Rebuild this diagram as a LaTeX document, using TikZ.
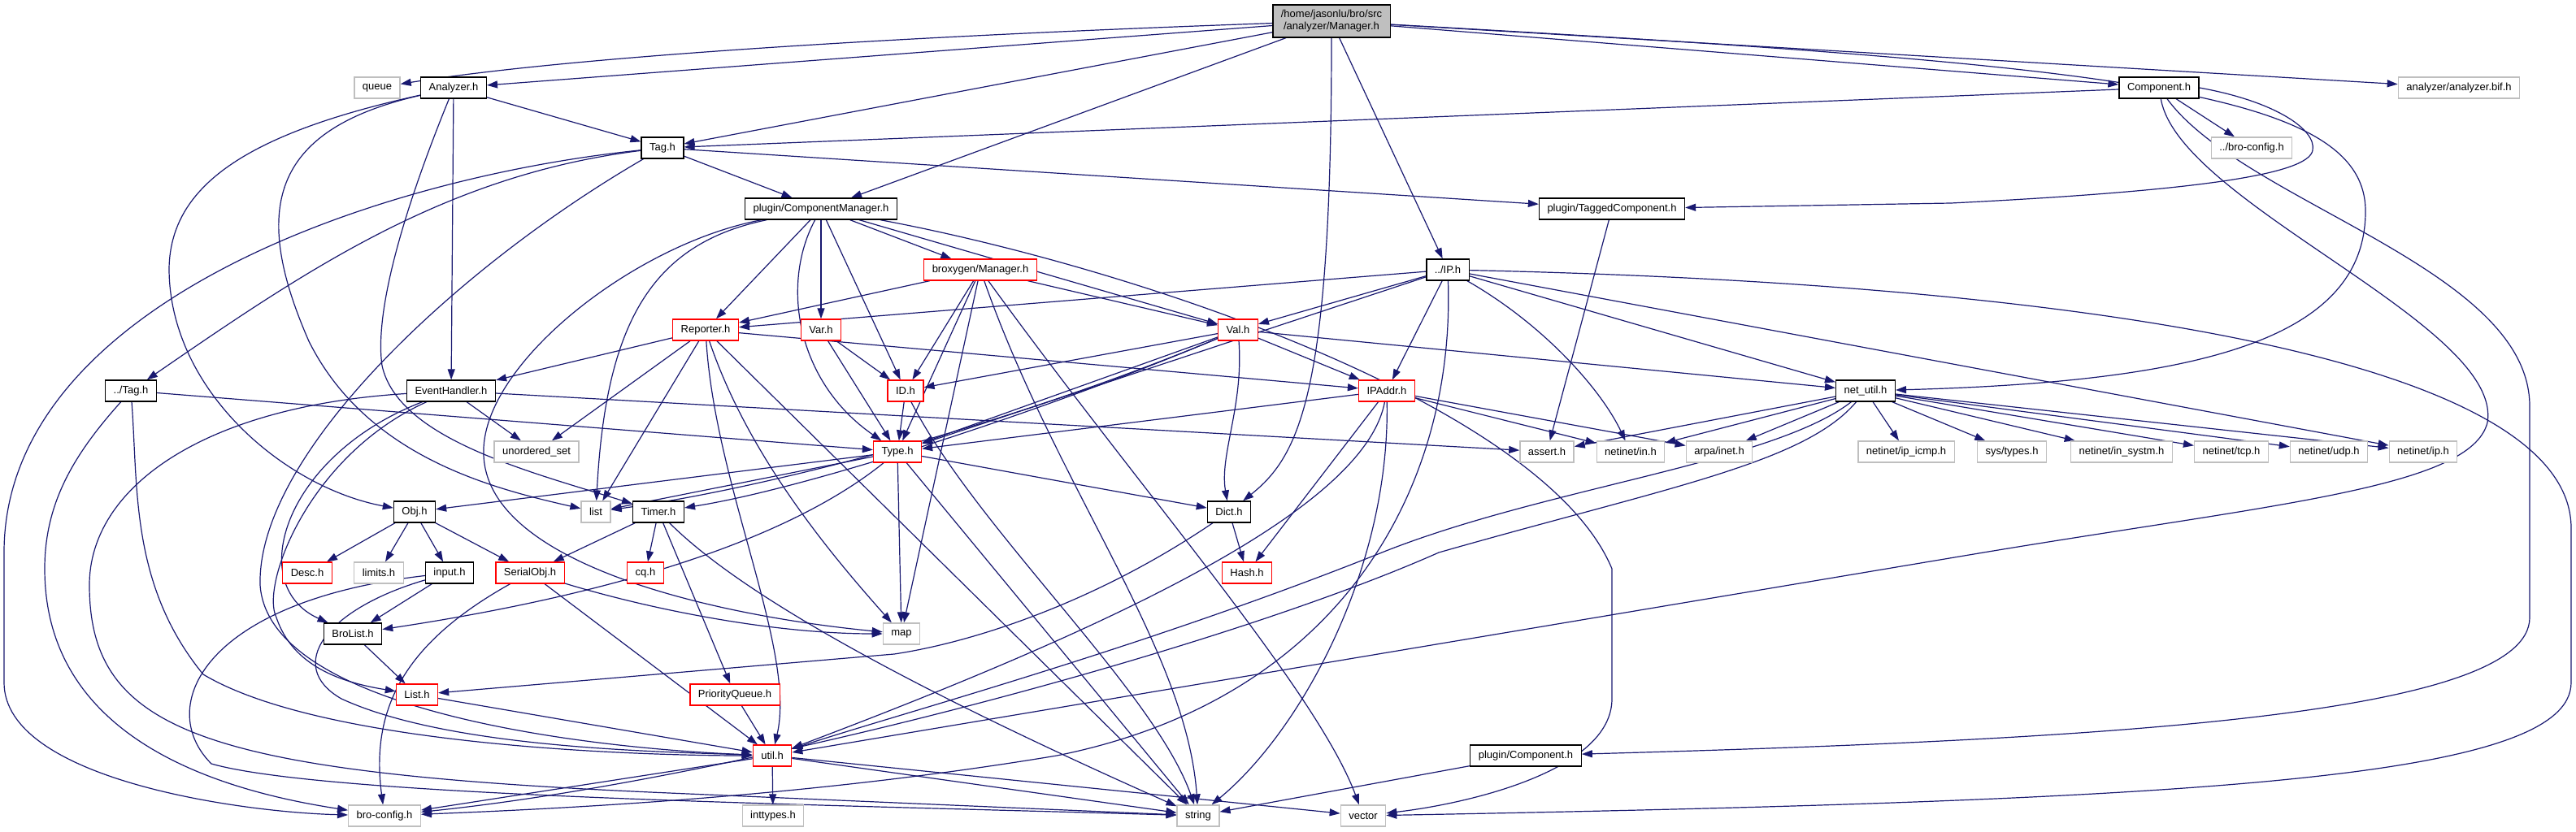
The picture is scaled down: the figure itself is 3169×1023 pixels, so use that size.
\documentclass[tikz,border=0pt]{standalone}
\usepackage{fontspec}
\setmainfont{Liberation Sans}
\usetikzlibrary{arrows.meta,backgrounds}
\definecolor{depblue}{HTML}{191970}
\definecolor{extgray}{HTML}{BFBFBF}

\begin{document}
\begin{tikzpicture}[x=1pt,y=-1pt,font=\fontsize{13}{15}\selectfont,
  file/.style={draw=black,line width=1.3pt,fill=white,minimum height=26pt,inner xsep=10pt,inner ysep=0pt},
  trunc/.style={file,draw=red},
  ext/.style={file,draw=extgray},
  dep/.style={draw=depblue,line width=1.2pt,-{Triangle[length=13pt,width=9pt]}}]
  \useasboundingbox (0,0) rectangle (3169,1023);
  % the header itself and its direct includes
  \node[file,fill=extgray,align=center,minimum height=40pt] (main) at (1638,26)
    {/home/jasonlu/bro/src\\/analyzer/Manager.h};
  \node[ext] (queue) at (464,108) {queue};
  \node[file] (analyzer) at (558,108) {Analyzer.h};
  \node[file] (component) at (2656,108) {Component.h};
  \node[ext] (bif) at (3025,108) {analyzer/analyzer.bif.h};
  \node[file] (tag) at (815,182) {Tag.h};
  \node[ext] (brocfgrel) at (2770,182) {../bro-config.h};
  \node[file] (compmgr) at (1010,257) {plugin/ComponentManager.h};
  \node[file] (taggedcomp) at (1983,257) {plugin/TaggedComponent.h};
  \node[trunc] (broxygen) at (1206,332) {broxygen/Manager.h};
  \node[file] (ip) at (1781,332) {../IP.h};
  % middle rows
  \node[trunc] (reporter) at (868,406) {Reporter.h};
  \node[trunc] (var) at (1010,406) {Var.h};
  \node[trunc] (val) at (1523,406) {Val.h};
  \node[file] (tagrel) at (161,481) {../Tag.h};
  \node[file] (evhandler) at (555,481) {EventHandler.h};
  \node[trunc] (id) at (1114,481) {ID.h};
  \node[trunc] (ipaddr) at (1706,481) {IPAddr.h};
  \node[file] (netutil) at (2295,481) {net\_util.h};
  \node[ext] (uset) at (660,556) {unordered\_set};
  \node[trunc] (type) at (1104,556) {Type.h};
  \node[ext] (assert) at (1903,556) {assert.h};
  \node[ext] (inh) at (2006,556) {netinet/in.h};
  \node[ext] (inet) at (2115,556) {arpa/inet.h};
  \node[ext] (icmp) at (2345,556) {netinet/ip\_icmp.h};
  \node[ext] (systypes) at (2475,556) {sys/types.h};
  \node[ext] (insystm) at (2610,556) {netinet/in\_systm.h};
  \node[ext] (tcp) at (2745,556) {netinet/tcp.h};
  \node[ext] (udp) at (2865,556) {netinet/udp.h};
  \node[ext] (netip) at (2981,556) {netinet/ip.h};
  \node[file] (obj) at (510,630) {Obj.h};
  \node[ext] (list) at (733,630) {list};
  \node[file] (timer) at (810,630) {Timer.h};
  \node[file] (dict) at (1512,630) {Dict.h};
  \node[trunc] (desc) at (378,705) {Desc.h};
  \node[ext] (limits) at (466,705) {limits.h};
  \node[file] (input) at (553,705) {input.h};
  \node[trunc] (serial) at (652,705) {SerialObj.h};
  \node[trunc] (cq) at (794,705) {cq.h};
  \node[trunc] (hash) at (1534,705) {Hash.h};
  % bottom rows
  \node[file] (brolist) at (434,780) {BroList.h};
  \node[ext] (map) at (1109,780) {map};
  \node[trunc] (listh) at (513,855) {List.h};
  \node[trunc] (pqueue) at (904,855) {PriorityQueue.h};
  \node[trunc] (util) at (950,930) {util.h};
  \node[file] (pcomp) at (1877,930) {plugin/Component.h};
  \node[ext] (brocfg) at (473,1004) {bro-config.h};
  \node[ext] (inttypes) at (951,1004) {inttypes.h};
  \node[ext] (string) at (1474,1004) {string};
  \node[ext] (vector) at (1677,1004) {vector};

  \begin{scope}[on background layer]
  % includes of analyzer/Manager.h
  \draw[dep] (main) .. controls (1100,45) and (700,70) .. (queue);
  \draw[dep] (main) -- (analyzer);
  \draw[dep] (main) -- (tag);
  \draw[dep] (main) -- (compmgr);
  \draw[dep] (main) -- (ip);
  \draw[dep] (main) .. controls (1638,480) and (1600,560) .. (dict);
  \draw[dep] (main) -- (component);
  \draw[dep] (main) .. controls (2600,80) and (2910,110) .. (2910,260)
    .. controls (2910,420) and (2700,470) .. (netutil);
  \draw[dep] (main) -- (bif);
  % Analyzer.h
  \draw[dep] (analyzer) -- (tag);
  \draw[dep] (analyzer) -- (evhandler);
  \draw[dep] (analyzer) .. controls (300,165) and (210,230) .. (208,330)
    .. controls (208,480) and (350,600) .. (obj);
  \draw[dep] (analyzer) .. controls (330,160) and (310,260) .. (380,420)
    .. controls (450,560) and (600,600) .. (list);
  \draw[dep] (analyzer) .. controls (500,250) and (460,380) .. (470,450)
    .. controls (490,540) and (650,580) .. (timer);
  % Tag.h
  \draw[dep] (tag) -- (compmgr);
  \draw[dep] (tag) -- (taggedcomp);
  \draw[dep] (tag) .. controls (550,215) and (380,330) .. (tagrel);
  \draw[dep] (tag) .. controls (450,220) and (5,380) .. (5,680) -- (5,840)
    .. controls (5,960) and (300,1000) .. (brocfg);
  \draw[dep] (tag) .. controls (560,330) and (316,560) .. (320,720)
    .. controls (330,870) and (700,920) .. (util);
  % Component.h
  \draw[dep] (component) -- (tag);
  \draw[dep] (component) -- (brocfgrel);
  \draw[dep] (component.east) .. controls (2800,125) and (2850,160) .. (2845,185)
    .. controls (2840,215) and (2700,235) .. (2400,250) -- (taggedcomp);
  \draw[dep] (component) .. controls (2760,250) and (3112,330) .. (3112,500) -- (3112,760)
    .. controls (3112,880) and (2600,910) .. (pcomp);
  \draw[dep] (component) .. controls (2680,250) and (3080,400) .. (3060,520)
    .. controls (3040,600) and (2800,620) .. (2440,680) -- (util);
  \draw[dep] (taggedcomp) -- (assert);
  % plugin/ComponentManager.h
  \draw[dep] (compmgr) -- (reporter);
  \draw[dep] (compmgr) -- (var);
  \draw[dep] (compmgr) -- (id);
  \draw[dep] (compmgr) .. controls (960,350) and (980,470) .. (type);
  \draw[dep] (compmgr) -- (broxygen);
  \draw[dep] (compmgr) -- (val);
  \draw[dep] (compmgr) .. controls (780,300) and (590,450) .. (595,560)
    .. controls (600,700) and (900,760) .. (map);
  \draw[dep] (compmgr) .. controls (800,300) and (745,400) .. (list);
  \draw[dep] (compmgr) .. controls (1400,330) and (1900,500) .. (1983,700) -- (1983,860)
    .. controls (1983,950) and (1800,990) .. (vector);
  % broxygen/Manager.h
  \draw[dep] (broxygen) -- (reporter);
  \draw[dep] (broxygen) -- (id);
  \draw[dep] (broxygen) -- (type);
  \draw[dep] (broxygen) -- (map);
  \draw[dep] (broxygen) .. controls (1300,600) and (1460,800) .. (string);
  \draw[dep] (broxygen) .. controls (1400,600) and (1620,850) .. (vector);
  \draw[dep] (broxygen) -- (val);
  % ../IP.h
  \draw[dep] (ip) -- (reporter);
  \draw[dep] (ip) -- (val);
  \draw[dep] (ip) -- (type);
  \draw[dep] (ip) -- (ipaddr);
  \draw[dep] (ip) .. controls (1790,600) and (1650,860) .. (1300,930)
    .. controls (1000,980) and (700,995) .. (brocfg);
  \draw[dep] (ip) .. controls (1900,400) and (1970,480) .. (inh);
  \draw[dep] (ip) -- (netutil);
  \draw[dep] (ip) -- (netip);
  \draw[dep] (ip) .. controls (2600,350) and (3163,450) .. (3163,650) -- (3163,840)
    .. controls (3163,960) and (2700,985) .. (vector);
  % Reporter.h, Var.h, Val.h
  \draw[dep] (reporter) -- (evhandler);
  \draw[dep] (reporter) -- (uset);
  \draw[dep] (reporter) -- (list);
  \draw[dep] (reporter) .. controls (880,600) and (980,800) .. (util);
  \draw[dep] (reporter) .. controls (920,560) and (1020,680) .. (map);
  \draw[dep] (reporter) -- (string);
  \draw[dep] (reporter) -- (ipaddr);
  \draw[dep] (var) -- (id);
  \draw[dep] (var) -- (type);
  \draw[dep] (val) -- (id);
  \draw[dep] (val) -- (type);
  \draw[dep] (val) .. controls (1250,520) and (950,600) .. (list);
  \draw[dep] (val) .. controls (1300,500) and (1000,600) .. (timer);
  \draw[dep] (val) -- (ipaddr);
  \draw[dep] (val) -- (netutil);
  \draw[dep] (val) .. controls (1530,500) and (1500,560) .. (dict);
  % ID.h, Type.h
  \draw[dep] (id) -- (type);
  \draw[dep] (id) .. controls (1200,650) and (1420,850) .. (string);
  \draw[dep] (type) -- (obj);
  \draw[dep] (type) -- (list);
  \draw[dep] (type) .. controls (950,680) and (700,740) .. (brolist);
  \draw[dep] (type) -- (map);
  \draw[dep] (type) -- (string);
  \draw[dep] (type) -- (dict);
  % EventHandler.h, ../Tag.h
  \draw[dep] (evhandler) -- (uset);
  \draw[dep] (evhandler) -- (assert);
  \draw[dep] (evhandler) .. controls (350,560) and (300,720) .. (brolist);
  \draw[dep] (evhandler) .. controls (380,560) and (320,720) .. (340,760)
    .. controls (360,820) and (420,840) .. (listh);
  \draw[dep] (evhandler) .. controls (250,500) and (110,600) .. (110,720)
    .. controls (110,900) and (250,950) .. (800,975) -- (string);
  \draw[dep] (tagrel) -- (type);
  \draw[dep] (tagrel) .. controls (90,560) and (55,620) .. (55,700)
    .. controls (55,900) and (250,970) .. (brocfg);
  \draw[dep] (tagrel) .. controls (170,600) and (160,720) .. (250,830)
    .. controls (400,920) and (800,930) .. (util);
  % Obj.h and below
  \draw[dep] (obj) -- (desc);
  \draw[dep] (obj) -- (limits);
  \draw[dep] (obj) -- (input);
  \draw[dep] (obj) -- (serial);
  \draw[dep] (input) -- (brolist);
  \draw[dep] (input) .. controls (400,750) and (350,820) .. (420,860)
    .. controls (550,920) and (800,925) .. (util);
  \draw[dep] (input) .. controls (250,740) and (190,870) .. (260,940)
    .. controls (400,980) and (1000,990) .. (string);
  \draw[dep] (serial) .. controls (800,750) and (950,780) .. (map);
  \draw[dep] (serial) -- (util);
  \draw[dep] (serial) .. controls (500,790) and (455,870) .. (brocfg);
  \draw[dep] (timer) -- (serial);
  \draw[dep] (timer) -- (cq);
  \draw[dep] (timer) -- (pqueue);
  \draw[dep] (timer) .. controls (920,740) and (1150,860) .. (string);
  \draw[dep] (brolist) -- (listh);
  \draw[dep] (listh) -- (util);
  \draw[dep] (pqueue) -- (util);
  \draw[dep] (dict) .. controls (1350,740) and (1200,790) .. (1100,805) -- (listh);
  \draw[dep] (dict) -- (hash);
  % IPAddr.h, net_util.h
  \draw[dep] (ipaddr) -- (type);
  \draw[dep] (ipaddr) -- (hash);
  \draw[dep] (ipaddr) .. controls (1680,620) and (1400,760) .. (util);
  \draw[dep] (ipaddr) .. controls (1710,700) and (1600,900) .. (string);
  \draw[dep] (ipaddr) -- (inh);
  \draw[dep] (ipaddr) -- (inet);
  \draw[dep] (netutil) -- (assert);
  \draw[dep] (netutil) -- (inh);
  \draw[dep] (netutil) -- (inet);
  \draw[dep] (netutil) -- (icmp);
  \draw[dep] (netutil) -- (systypes);
  \draw[dep] (netutil) -- (insystm);
  \draw[dep] (netutil) -- (tcp);
  \draw[dep] (netutil) -- (udp);
  \draw[dep] (netutil) -- (netip);
  \draw[dep] (netutil) .. controls (2180,570) and (1900,600) .. (1700,680)
    .. controls (1400,800) and (1100,880) .. (util);
  \draw[dep] (netutil) .. controls (2220,570) and (2050,600) .. (1770,680)
    .. controls (1500,800) and (900,960) .. (brocfg);
  % util.h and plugin/Component.h
  \draw[dep] (util) -- (brocfg);
  \draw[dep] (util) -- (inttypes);
  \draw[dep] (util) -- (string);
  \draw[dep] (util) -- (vector);
  \draw[dep] (pcomp) -- (string);
  \end{scope}
\end{tikzpicture}
\end{document}
